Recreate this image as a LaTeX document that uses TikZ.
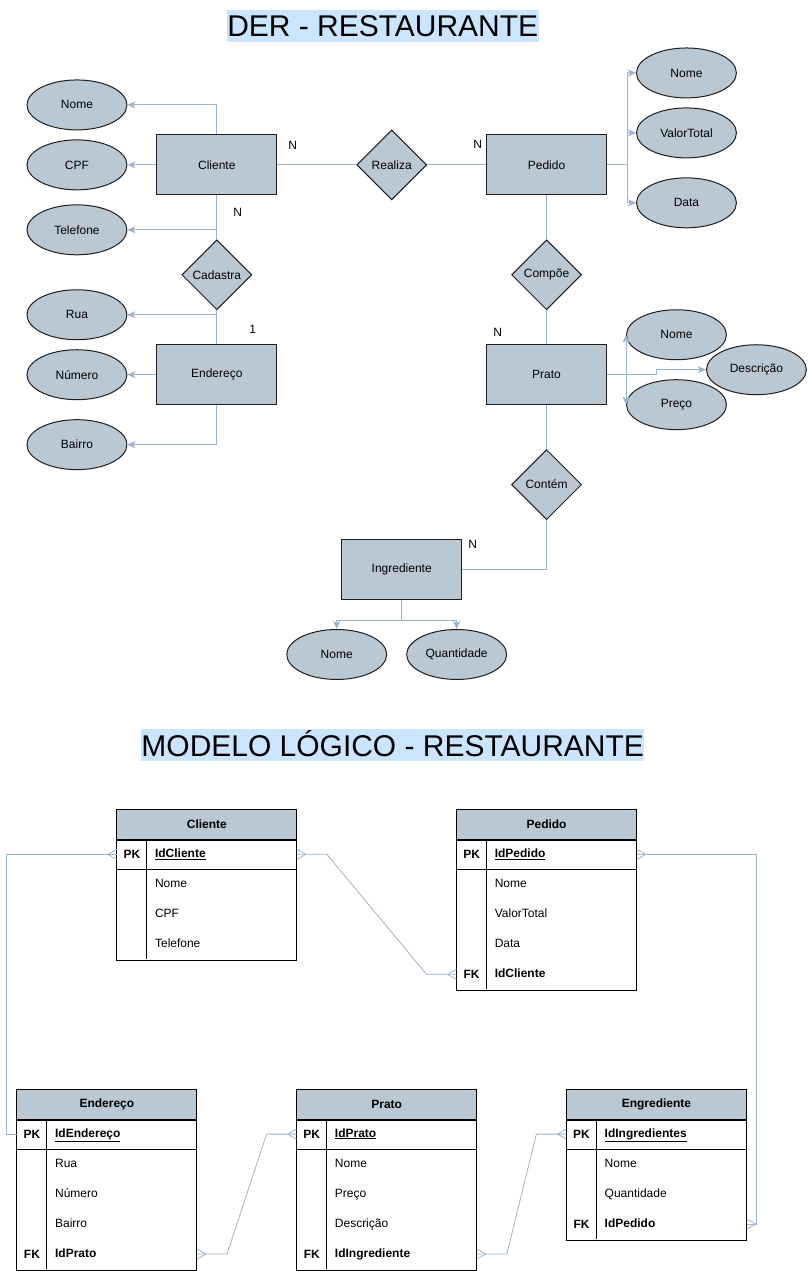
\documentclass[tikz,border=0pt]{standalone}
\usepackage{fontspec}
\setmainfont{Liberation Sans}
\usetikzlibrary{shapes.geometric,arrows.meta}

\definecolor{azulcinza}{HTML}{BAC8D3}
\definecolor{contorno}{HTML}{1E1E1E}
\definecolor{ligacao}{HTML}{9DB4CC}
\definecolor{destaque}{HTML}{CCE5FF}

% pe de galinha (muitos)
\pgfdeclarearrow{
  name = crow,
  setup code = {
    \pgfarrowssettipend{0pt}
    \pgfarrowssetlineend{0pt}
    \pgfarrowssetvisualbackend{-9pt}
    \pgfarrowssetbackend{-9pt}
  },
  drawing code = {
    \pgfpathmoveto{\pgfpoint{-9pt}{0pt}}
    \pgfpathlineto{\pgfpoint{0pt}{5pt}}
    \pgfpathmoveto{\pgfpoint{-9pt}{0pt}}
    \pgfpathlineto{\pgfpoint{0pt}{-5pt}}
    \pgfusepathqstroke
  }
}

\tikzset{
  fonte/.style={font=\fontsize{12}{14}\selectfont},
  negrito/.style={font=\fontsize{12}{14}\selectfont\bfseries},
  entidade/.style={draw=contorno, fill=azulcinza, line width=1pt, minimum width=120pt, minimum height=60pt, fonte},
  atributo/.style={ellipse, draw=contorno, fill=azulcinza, line width=1pt, minimum width=100pt, minimum height=50pt, inner sep=0pt, fonte},
  relacao/.style={diamond, draw=contorno, fill=azulcinza, line width=1pt, minimum width=70pt, minimum height=70pt, inner sep=0pt, fonte},
  liga/.style={draw=ligacao, line width=1pt},
  seta/.style={liga, -{Stealth[length=8pt,width=7pt,inset=2pt]}},
  titulo/.style={fill=destaque, font=\fontsize{30}{36}\selectfont, text height=21.5pt, text depth=0pt, minimum height=32pt, inner xsep=0.5pt, inner ysep=0pt},
  cab/.style={draw=black, fill=azulcinza, line width=1pt, minimum width=180pt, minimum height=30pt, negrito},
  corpo/.style={draw=black, line width=1pt, minimum width=180pt, anchor=north, inner sep=0pt},
  grade/.style={draw=black, line width=1pt},
  linha/.style={minimum width=180pt, minimum height=30pt, inner sep=0pt},
  chave/.style={negrito},
  campo/.style={anchor=west, inner sep=0pt, text height=8.6pt, text depth=2.6pt, fonte},
  fk/.style={draw=ligacao, line width=0.8pt},
}

\begin{document}
\begin{tikzpicture}[x=1pt,y=-1pt]
\useasboundingbox (0,0) rectangle (808,1272);

% titulos
\node[titulo] (derT) at (383,26) {DER - RESTAURANTE};
\node[titulo] (logT) at (393,746) {MODELO LÓGICO - RESTAURANTE};

% entidades
\node[entidade] (cliente) at (217,165) {Cliente};
\node[entidade] (pedido) at (547,165) {Pedido};
\node[entidade] (endereco) at (217,375) {Endereço};
\node[entidade] (prato) at (547,375) {Prato};
\node[entidade] (ingrediente) at (402,570) {Ingrediente};

% relacionamentos
\node[relacao] (realiza) at (392,165) {Realiza};
\node[relacao] (cadastra) at (217,275) {Cadastra};
\node[relacao] (compoe) at (547,275) {Compõe};
\node[relacao] (contem) at (547,485) {Contém};

% atributos
\node[atributo] (cNome) at (77,105) {Nome};
\node[atributo] (cCpf) at (77,165) {CPF};
\node[atributo] (cTel) at (77,230) {Telefone};
\node[atributo] (eRua) at (77,315) {Rua};
\node[atributo] (eNum) at (77,375) {Número};
\node[atributo] (eBairro) at (77,445) {Bairro};
\node[atributo] (pNome) at (687,73) {Nome};
\node[atributo] (pValor) at (687,133) {ValorTotal};
\node[atributo] (pData) at (687,203) {Data};
\node[atributo] (prNome) at (677,335) {Nome};
\node[atributo] (prPreco) at (677,405) {Preço};
\node[atributo] (prDesc) at (757,370) {Descrição};
\node[atributo] (iNome) at (337,655) {Nome};
\node[atributo] (iQtd) at (457,655) {Quantidade};

% ligacoes do DER
\draw[seta] (cliente.north) |- (cNome.east);
\draw[seta] (cliente.west) -- (cCpf.east);
\draw[liga] (cliente.south) -- (cadastra.north);
\coordinate (jTel) at (cliente.south |- cTel.east);
\draw[seta] (jTel) -- (cTel.east);
\draw[liga] (cadastra.south) -- (endereco.north);
\coordinate (jRua) at (cadastra.south |- eRua.east);
\draw[seta] (jRua) -- (eRua.east);
\draw[seta] (endereco.west) -- (eNum.east);
\draw[seta] (endereco.south) |- (eBairro.east);
\draw[liga] (cliente.east) -- (realiza.west);
\draw[liga] (realiza.east) -- (pedido.west);
\coordinate (jPed) at ([xshift=20pt]pedido.east);
\draw[seta] (pedido.east) -- (jPed) |- (pNome.west);
\draw[seta] (pedido.east) -- (jPed) |- (pValor.west);
\draw[seta] (pedido.east) -- (jPed) |- (pData.west);
\draw[liga] (pedido.south) -- (compoe.north);
\draw[liga] (compoe.south) -- (prato.north);
\draw[seta] (prato.east) -| (prNome.west);
\draw[seta] (prato.east) -| (prPreco.west);
\draw[seta] (prato.east) -- ++(50,0) |- (prDesc.west);
\draw[liga] (prato.south) -- (contem.north);
\draw[liga] (contem.south) |- (ingrediente.east);
\draw[seta] (ingrediente.south) -- ++(0,20) -| (iNome.north);
\draw[seta] (ingrediente.south) -- ++(0,20) -| (iQtd.north);

% cardinalidades
\node[fonte] (nCli) at (293,145) {N};
\node[fonte] (nCad) at (238,213) {N};
\node[fonte] (uEnd) at (253,330) {1};
\node[fonte] (nPed) at (478,144) {N};
\node[fonte] (nPra) at (498,333) {N};
\node[fonte] (nIng) at (473,545) {N};

% tabela Cliente
\node[cab] (tCli) at (207,825) {Cliente};
\node[corpo, minimum height=120pt] (bCli) at (tCli.south) {};
\draw[grade] (117,870) -- (297,870) (147,840) -- (147,960);
\node[linha] (cliPK) at (207,855) {};
\node[chave] (kCli) at (132,855) {PK};
\node[campo, negrito] (idCli) at (155,855) {\underline{IdCliente}};
\foreach \txt [count=\i] in {Nome,CPF,Telefone}
  \node[campo] (cli\i) at (155,855+30*\i) {\txt};

% tabela Pedido
\node[cab] (tPed) at (547,825) {Pedido};
\node[corpo, minimum height=150pt] (bPed) at (tPed.south) {};
\draw[grade] (457,870) -- (637,870) (487,840) -- (487,990);
\node[linha] (pedPK) at (547,855) {};
\node[linha] (pedFK) at (547,975) {};
\node[chave] (kPed) at (472,855) {PK};
\node[campo, negrito] (idPed) at (495,855) {\underline{IdPedido}};
\foreach \txt [count=\i] in {Nome,ValorTotal,Data}
  \node[campo] (ped\i) at (495,855+30*\i) {\txt};
\node[chave] (fPed) at (472,975) {FK};
\node[campo, negrito] (idPedCli) at (495,975) {IdCliente};

% tabela Endereco
\node[cab] (tEnd) at (107,1105) {Endereço};
\node[corpo, minimum height=150pt] (bEnd) at (tEnd.south) {};
\draw[grade] (17,1150) -- (197,1150) (47,1120) -- (47,1270);
\node[linha] (endPK) at (107,1135) {};
\node[linha] (endFK) at (107,1255) {};
\node[chave] (kEnd) at (32,1135) {PK};
\node[campo, negrito] (idEnd) at (55,1135) {\underline{IdEndereço}};
\foreach \txt [count=\i] in {Rua,Número,Bairro}
  \node[campo] (end\i) at (55,1135+30*\i) {\txt};
\node[chave] (fEnd) at (32,1255) {FK};
\node[campo, negrito] (idEndPra) at (55,1255) {IdPrato};

% tabela Prato
\node[cab] (tPra) at (387,1105) {Prato};
\node[corpo, minimum height=150pt] (bPra) at (tPra.south) {};
\draw[grade] (297,1150) -- (477,1150) (327,1120) -- (327,1270);
\node[linha] (praPK) at (387,1135) {};
\node[linha] (praFK) at (387,1255) {};
\node[chave] (kPra) at (312,1135) {PK};
\node[campo, negrito] (idPra) at (335,1135) {\underline{IdPrato}};
\foreach \txt [count=\i] in {Nome,Preço,Descrição}
  \node[campo] (pra\i) at (335,1135+30*\i) {\txt};
\node[chave] (fPra) at (312,1255) {FK};
\node[campo, negrito] (idPraIng) at (335,1255) {IdIngrediente};

% tabela Engrediente
\node[cab] (tEng) at (657,1105) {Engrediente};
\node[corpo, minimum height=120pt] (bEng) at (tEng.south) {};
\draw[grade] (567,1150) -- (747,1150) (597,1120) -- (597,1240);
\node[linha] (engPK) at (657,1135) {};
\node[linha] (engFK) at (657,1225) {};
\node[chave] (kEng) at (582,1135) {PK};
\node[campo, negrito] (idEng) at (605,1135) {\underline{IdIngredientes}};
\foreach \txt [count=\i] in {Nome,Quantidade}
  \node[campo] (eng\i) at (605,1135+30*\i) {\txt};
\node[chave] (fEng) at (582,1225) {FK};
\node[campo, negrito] (idEngPed) at (605,1225) {IdPedido};

% ligacoes do modelo logico
\draw[fk, -crow] (endPK.west) -- ++(-10,0) |- (cliPK.west);
\draw[fk, crow-crow] (cliPK.east) -- ++(30,0) -- ([xshift=-30pt]pedFK.west) -- (pedFK.west);
\draw[fk, crow-crow] (pedPK.east) -- ++(120,0) |- (engFK.east);
\draw[fk, crow-crow] (endFK.east) -- ++(30,0) -- ([xshift=-30pt]praPK.west) -- (praPK.west);
\draw[fk, crow-crow] (praFK.east) -- ++(30,0) -- ([xshift=-30pt]engPK.west) -- (engPK.west);
\end{tikzpicture}
\end{document}
